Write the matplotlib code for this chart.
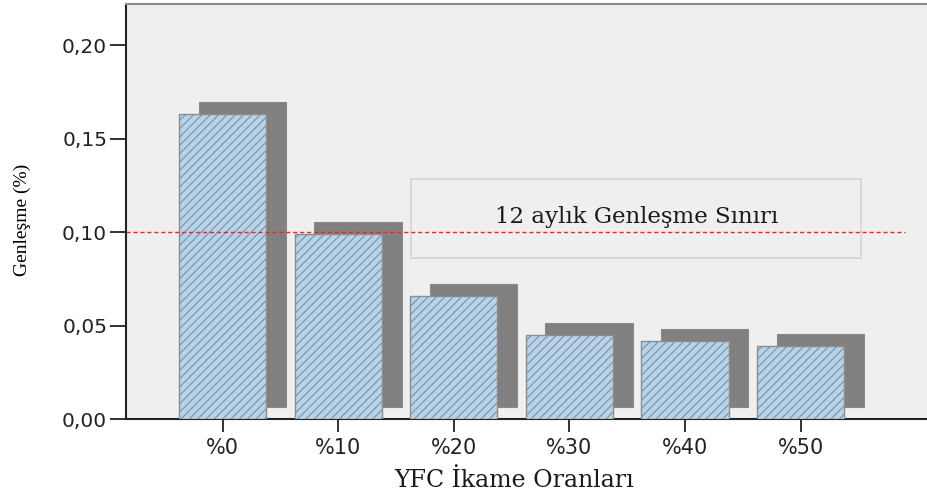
import numpy as np
import matplotlib.pyplot as plt

# Expansion values per YFC replacement ratio
categories = ['%0', '%10', '%20', '%30', '%40', '%50']
expansion = [0.163, 0.099, 0.066, 0.045, 0.042, 0.039]
limit_value = 0.10
yticks = [0.00, 0.05, 0.10, 0.15, 0.20]
ytick_labels = ['0,00', '0,05', '0,10', '0,15', '0,20']

plt.rcParams['hatch.color'] = '#95a4b2'
plt.rcParams['hatch.linewidth'] = 0.8

fig = plt.figure(figsize=(9.27, 4.93), dpi=100)
ax = fig.add_axes([0.1359, 0.150, 0.88, 0.842])
ax.set_facecolor('#efefef')

x = np.arange(len(categories))
width = 0.755
dx, dy = 0.17, 0.0064

# 3D-style shadow behind each bar
ax.bar(x + dx, expansion, width=width, bottom=dy, color='#808080',
       edgecolor='#8a8a8a', linewidth=0.8, zorder=2)
ax.bar(x, expansion, width=width, color='#b3d3ef', edgecolor='#8c8c8c',
       linewidth=1.0, hatch='////', zorder=3)

# 12-month expansion limit
ax.axhline(limit_value, xmin=0, xmax=0.955, color='#ff2020', linestyle=(0, (3, 2)),
           linewidth=1.0, zorder=4)
ax.add_patch(plt.Rectangle((1.625, 0.0861), 3.9, 0.0422, facecolor='none',
                           edgecolor='#d4d4d4', linewidth=1.2, zorder=1))
ax.text(3.58, 0.1078, '12 aylık Genleşme Sınırı', ha='center', va='center',
        fontsize=16.5, family='DejaVu Serif', color='#1a1a1a', zorder=5)

ax.set_xlim(-0.836, 6.22)
ax.set_ylim(0, 0.222)
ax.set_xticks(x)
ax.set_xticklabels(categories, fontsize=15, family='DejaVu Sans', color='#222222')
ax.set_yticks(yticks)
ax.set_yticklabels(ytick_labels, fontsize=14.5, family='DejaVu Sans', color='#222222')
ax.tick_params(axis='x', direction='out', length=9.5, width=1.3, color='#222222', pad=4)
ax.tick_params(axis='y', direction='out', length=11.5, width=1.3, color='#222222', pad=2)

ax.spines['right'].set_visible(False)
ax.spines['top'].set_color('#8a8a8a')
ax.spines['top'].set_linewidth(1.5)
for side in ['left', 'bottom']:
    ax.spines[side].set_color('#222222')
    ax.spines[side].set_linewidth(1.5)

ax.set_ylabel('Genleşme (%)', fontsize=14, family='Liberation Serif')
ax.yaxis.set_label_coords(-0.117, 0.48)
ax.set_xlabel('YFC İkame Oranları', fontsize=17, family='DejaVu Serif', color='#1a1a1a')
ax.xaxis.set_label_coords(0.476, -0.12)

fig.savefig('out.png', dpi=100)
